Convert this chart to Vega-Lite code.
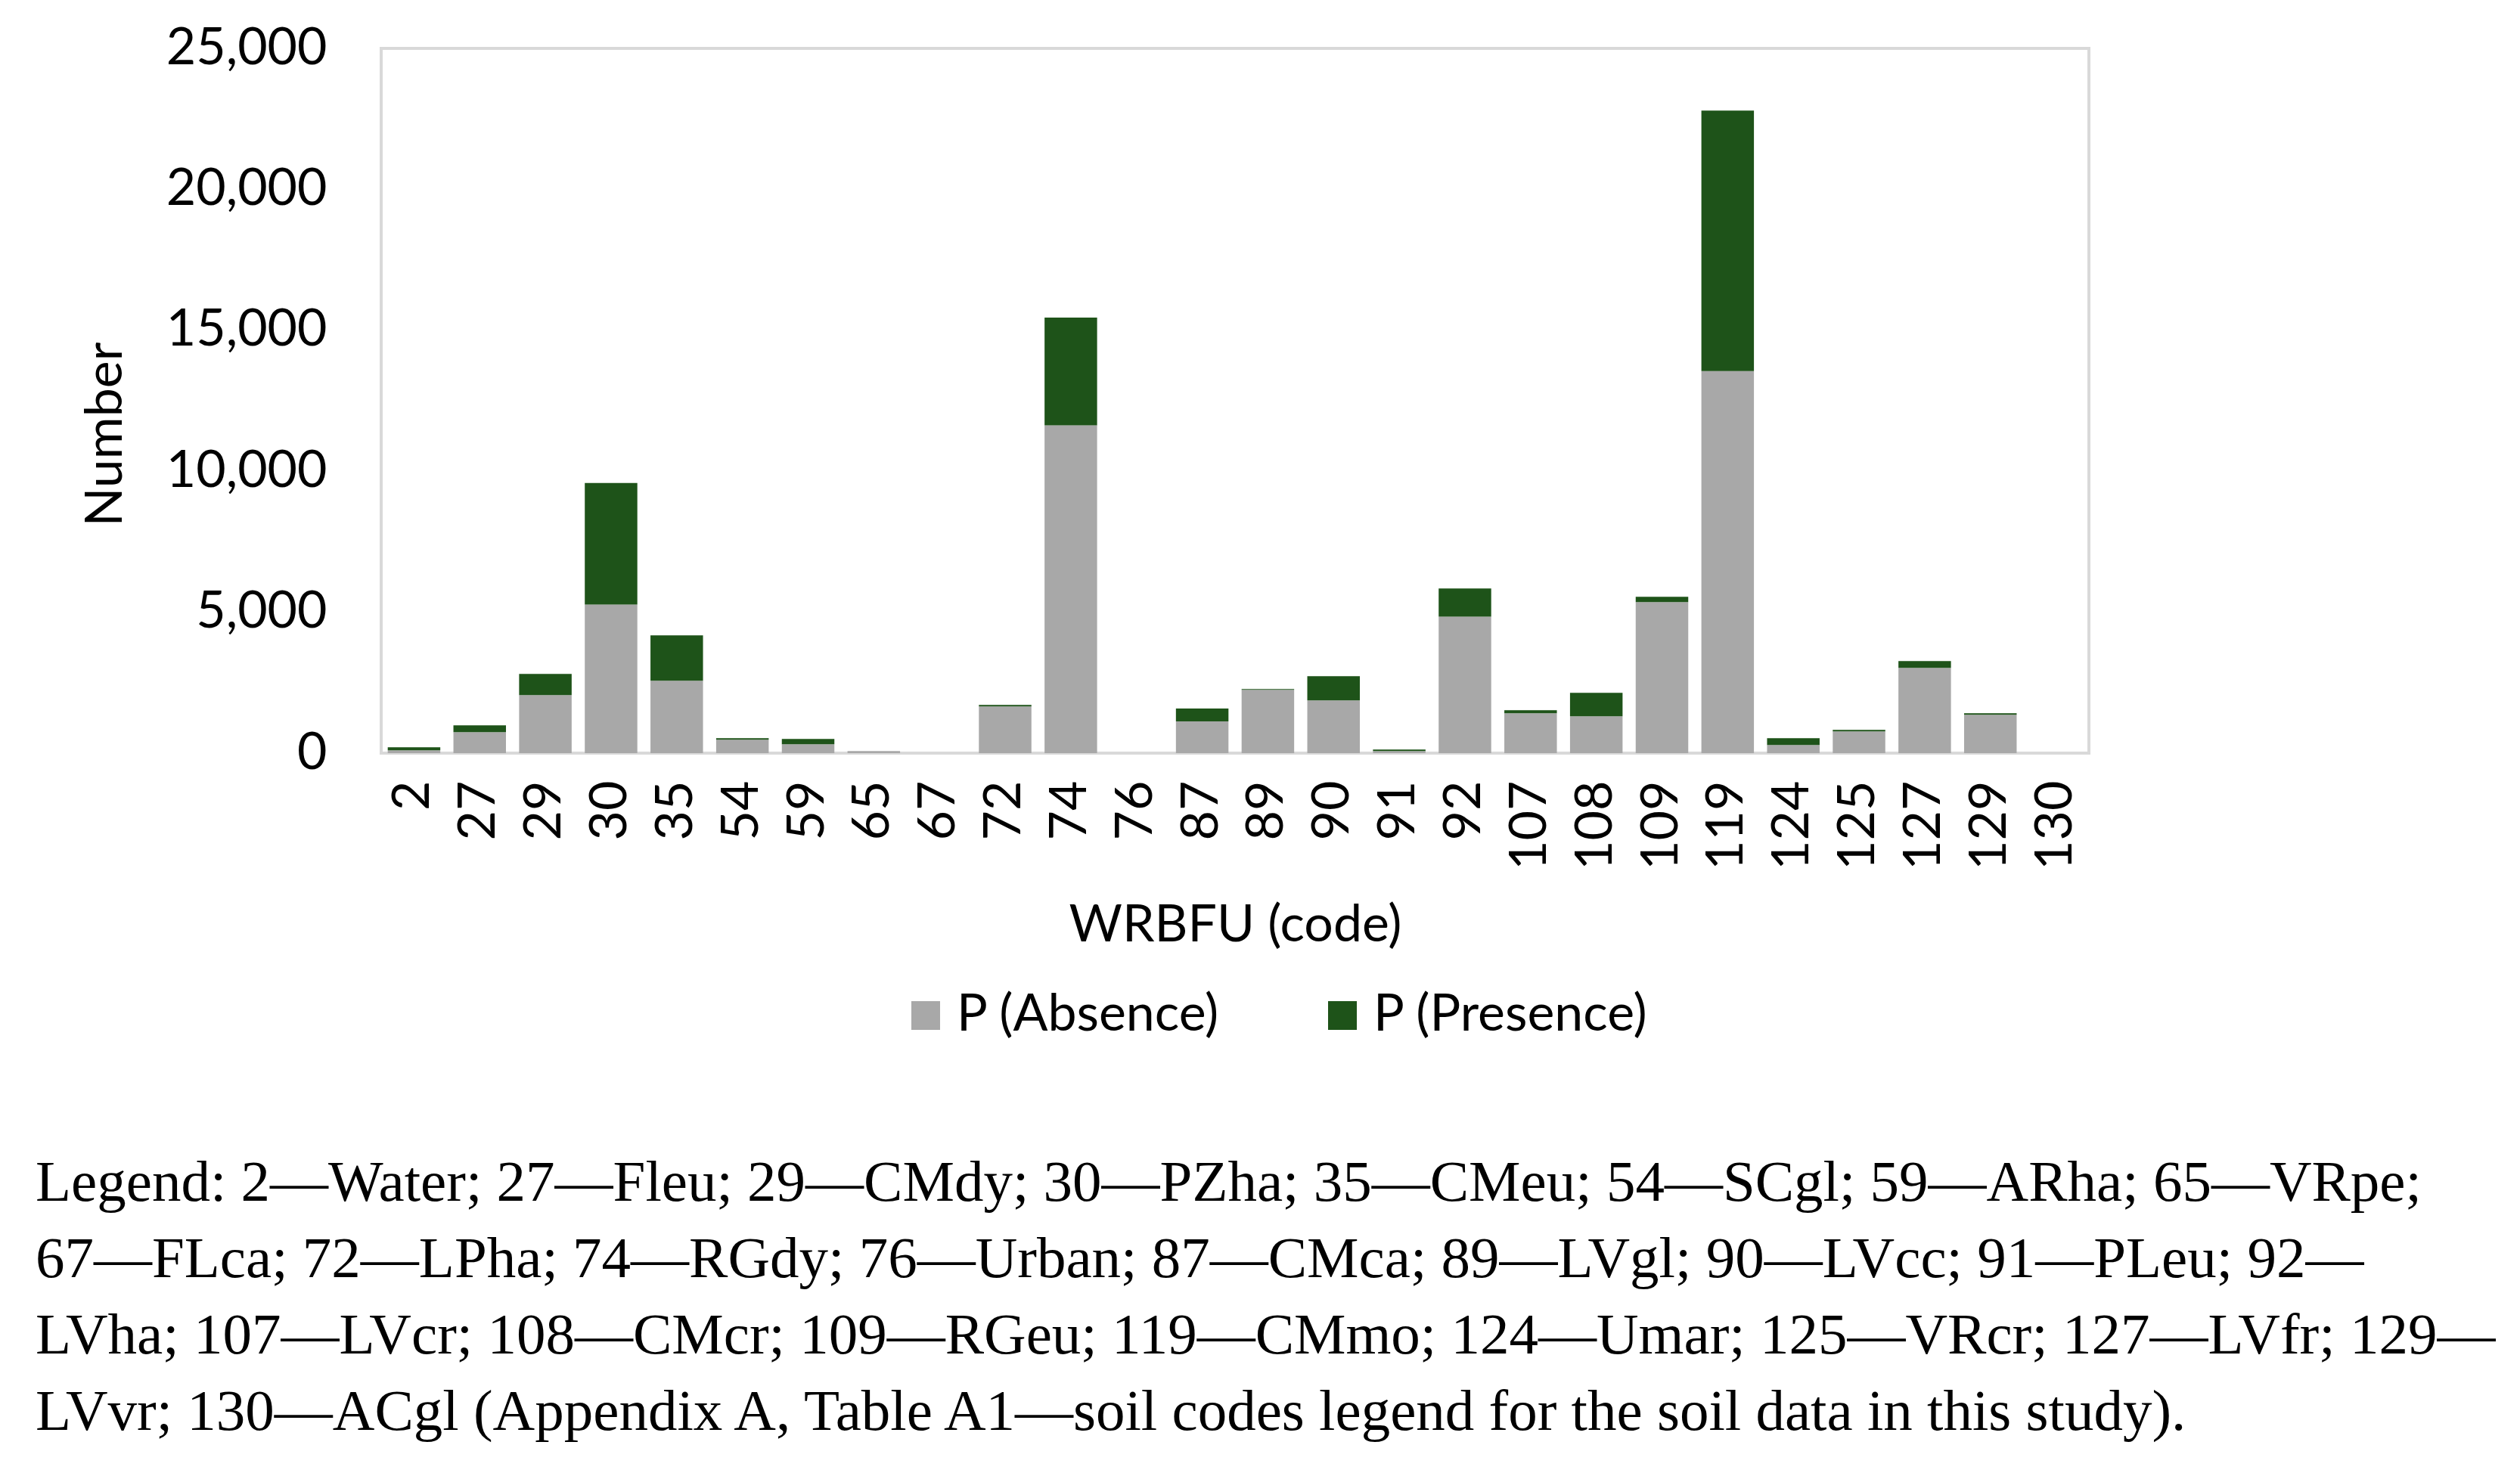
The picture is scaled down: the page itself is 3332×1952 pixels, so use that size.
{
  "$schema": "https://vega.github.io/schema/vega-lite/v6.json",
  "width": 2258,
  "height": 932,
  "autosize": {"type": "none"},
  "padding": {"left": 504, "top": 64, "right": 570, "bottom": 956},
  "background": "white",
  "config": {
    "view": {"stroke": "#D9D9D9", "strokeWidth": 4},
    "font": "Lato",
    "axis": {
      "labelFont": "Lato", "labelFontSize": 68, "labelColor": "black", "labelLimit": 0,
      "titleFont": "Lato", "titleFontSize": 68, "titleColor": "black", "titleFontWeight": "normal",
      "ticks": false, "domain": false, "grid": false
    },
    "legend": {
      "labelFont": "Lato", "labelFontSize": 68, "labelColor": "black", "labelLimit": 0
    }
  },
  "title": {
    "text": [
      "Legend: 2—Water; 27—Fleu; 29—CMdy; 30—PZha; 35—CMeu; 54—SCgl; 59—ARha; 65—VRpe;",
      "67—FLca; 72—LPha; 74—RGdy; 76—Urban; 87—CMca; 89—LVgl; 90—LVcc; 91—PLeu; 92—",
      "LVha; 107—LVcr; 108—CMcr; 109—RGeu; 119—CMmo; 124—Umar; 125—VRcr; 127—LVfr; 129—",
      "LVvr; 130—ACgl (Appendix A, Table A1—soil codes legend for the soil data in this study)."
    ],
    "orient": "bottom",
    "anchor": "start",
    "frame": "group",
    "dx": -457,
    "offset": 150,
    "font": "Liberation Serif",
    "fontSize": 77,
    "fontWeight": "normal",
    "lineHeight": 101,
    "color": "black",
    "limit": 0
  },
  "data": {
    "values": [
      {"code": 2, "series": "P (Absence)", "count": 100},
      {"code": 2, "series": "P (Presence)", "count": 110},
      {"code": 27, "series": "P (Absence)", "count": 742},
      {"code": 27, "series": "P (Presence)", "count": 241},
      {"code": 29, "series": "P (Absence)", "count": 2056},
      {"code": 29, "series": "P (Presence)", "count": 751},
      {"code": 30, "series": "P (Absence)", "count": 5270},
      {"code": 30, "series": "P (Presence)", "count": 4310},
      {"code": 35, "series": "P (Absence)", "count": 2566},
      {"code": 35, "series": "P (Presence)", "count": 1609},
      {"code": 54, "series": "P (Absence)", "count": 474},
      {"code": 54, "series": "P (Presence)", "count": 53},
      {"code": 59, "series": "P (Absence)", "count": 313},
      {"code": 59, "series": "P (Presence)", "count": 187},
      {"code": 65, "series": "P (Absence)", "count": 72},
      {"code": 65, "series": "P (Presence)", "count": 0},
      {"code": 67, "series": "P (Absence)", "count": 0},
      {"code": 67, "series": "P (Presence)", "count": 0},
      {"code": 72, "series": "P (Absence)", "count": 1654},
      {"code": 72, "series": "P (Presence)", "count": 54},
      {"code": 74, "series": "P (Absence)", "count": 11631},
      {"code": 74, "series": "P (Presence)", "count": 3821},
      {"code": 76, "series": "P (Absence)", "count": 0},
      {"code": 76, "series": "P (Presence)", "count": 0},
      {"code": 87, "series": "P (Absence)", "count": 1129},
      {"code": 87, "series": "P (Presence)", "count": 452},
      {"code": 89, "series": "P (Absence)", "count": 2244},
      {"code": 89, "series": "P (Presence)", "count": 30},
      {"code": 90, "series": "P (Absence)", "count": 1868},
      {"code": 90, "series": "P (Presence)", "count": 859},
      {"code": 91, "series": "P (Absence)", "count": 72},
      {"code": 91, "series": "P (Presence)", "count": 53},
      {"code": 92, "series": "P (Absence)", "count": 4845},
      {"code": 92, "series": "P (Presence)", "count": 993},
      {"code": 107, "series": "P (Absence)", "count": 1412},
      {"code": 107, "series": "P (Presence)", "count": 108},
      {"code": 108, "series": "P (Absence)", "count": 1305},
      {"code": 108, "series": "P (Presence)", "count": 832},
      {"code": 109, "series": "P (Absence)", "count": 5355},
      {"code": 109, "series": "P (Presence)", "count": 188},
      {"code": 119, "series": "P (Absence)", "count": 13551},
      {"code": 119, "series": "P (Presence)", "count": 9241},
      {"code": 124, "series": "P (Absence)", "count": 286},
      {"code": 124, "series": "P (Presence)", "count": 241},
      {"code": 125, "series": "P (Absence)", "count": 769},
      {"code": 125, "series": "P (Presence)", "count": 53},
      {"code": 127, "series": "P (Absence)", "count": 3022},
      {"code": 127, "series": "P (Presence)", "count": 241},
      {"code": 129, "series": "P (Absence)", "count": 1359},
      {"code": 129, "series": "P (Presence)", "count": 54},
      {"code": 130, "series": "P (Absence)", "count": 0},
      {"code": 130, "series": "P (Presence)", "count": 0}
    ]
  },
  "mark": {"type": "bar"},
  "encoding": {
    "x": {
      "field": "code",
      "type": "ordinal",
      "scale": {"paddingInner": 0.2, "paddingOuter": 0.1},
      "axis": {
        "title": "WRBFU (code)",
        "labelAngle": -90,
        "labelPadding": 36,
        "titlePadding": 40
      }
    },
    "y": {
      "field": "count",
      "type": "quantitative",
      "stack": "zero",
      "scale": {"domain": [0, 25000], "nice": false},
      "axis": {
        "title": "Number",
        "values": [0, 5000, 10000, 15000, 20000, 25000],
        "format": ",d",
        "labelPadding": 72,
        "titleX": -330,
        "titleY": 510,
        "titleBaseline": "bottom",
        "titleAngle": -90
      }
    },
    "color": {
      "field": "series",
      "type": "nominal",
      "scale": {"domain": ["P (Absence)", "P (Presence)"], "range": ["#A8A8A8", "#1E5319"]},
      "legend": {
        "title": null,
        "orient": "none",
        "direction": "horizontal",
        "legendX": 686,
        "legendY": 1245,
        "symbolType": "square",
        "symbolSize": 1444,
        "symbolStrokeWidth": 0,
        "labelOffset": 7,
        "columnPadding": 127
      }
    },
    "order": {"field": "series", "type": "nominal", "sort": "ascending"}
  }
}
